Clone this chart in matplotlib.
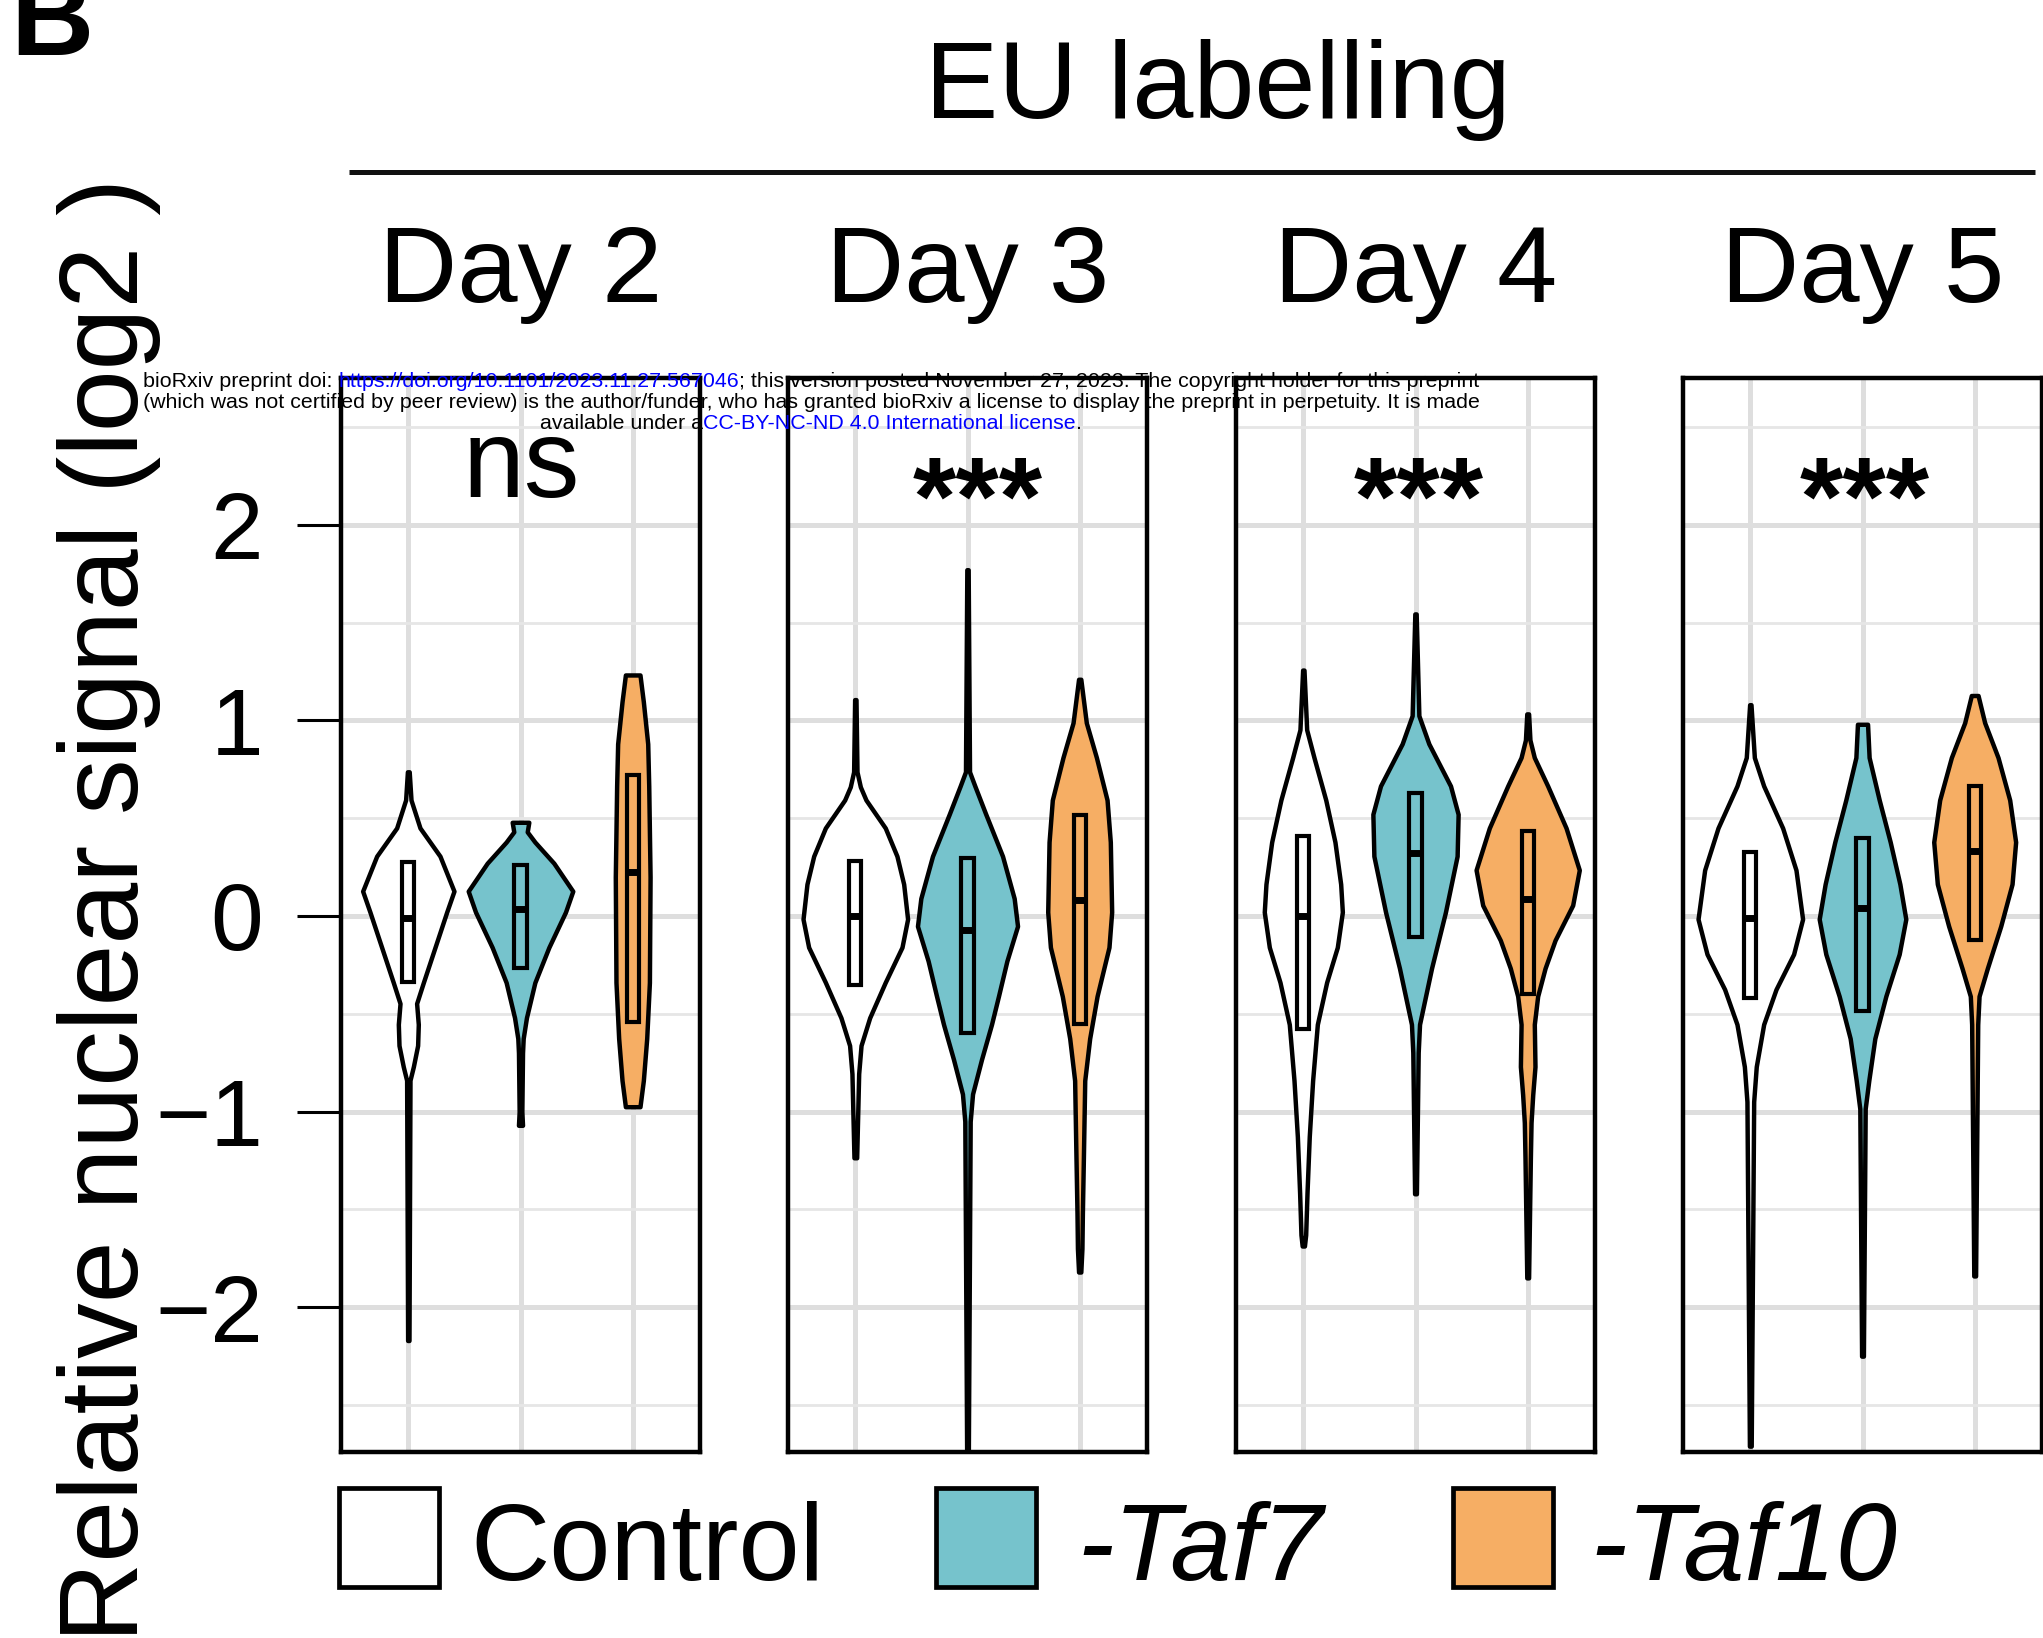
import numpy as np
import matplotlib
matplotlib.use("Agg")
import matplotlib.pyplot as plt
from matplotlib.patches import Rectangle

plt.rcParams['font.family'] = ['Liberation Sans', 'DejaVu Sans']

days = ["Day 2", "Day 3", "Day 4", "Day 5"]
groups = ["Control", "-Taf7", "-Taf10"]
colors = ["#FFFFFF", "#76C3CC", "#F6AE64"]
signif = ["ns", "***", "***", "***"]
signif_x = [2.01, 2.09, 2.03, 2.02]
signif_y = [2.14, 1.95, 1.95, 1.95]

# violin outlines: y = log2 signal, hw = half width (x units)
d2_control_y = [0.737, 0.593, 0.45, 0.306, 0.127, 0.02, -0.16, -0.34, -0.447, -0.554, -0.662, -0.77, -0.84, -2.17]
d2_control_hw = [0.008, 0.024, 0.104, 0.282, 0.407, 0.342, 0.238, 0.134, 0.074, 0.089, 0.083, 0.045, 0.015, 0.006]
d2_taf7_y = [0.479, 0.43, 0.378, 0.27, 0.127, 0.02, -0.16, -0.34, -0.52, -0.626, -0.70, -1.0, -1.07]
d2_taf7_hw = [0.074, 0.06, 0.128, 0.297, 0.466, 0.401, 0.253, 0.128, 0.053, 0.024, 0.018, 0.012, 0.018]
d2_taf10_y = [1.232, 1.095, 0.88, 0.665, 0.199, -0.34, -0.626, -0.841, -0.975]
d2_taf10_hw = [0.065, 0.095, 0.134, 0.143, 0.155, 0.149, 0.125, 0.095, 0.065]

d3_control_y = [1.106, 0.737, 0.66, 0.593, 0.45, 0.306, 0.163, -0.016, -0.16, -0.339, -0.52, -0.662, -0.806, -1.236]
d3_control_hw = [0.006, 0.015, 0.045, 0.095, 0.267, 0.371, 0.431, 0.466, 0.416, 0.267, 0.128, 0.051, 0.03, 0.012]
d3_taf7_y = [1.77, 0.737, 0.665, 0.52, 0.306, 0.09, -0.052, -0.23, -0.41, -0.554, -0.733, -0.91, -1.05, -2.9]
d3_taf7_hw = [0.006, 0.018, 0.065, 0.163, 0.312, 0.416, 0.446, 0.351, 0.276, 0.214, 0.125, 0.045, 0.024, 0.006]
d3_taf10_y = [1.21, 0.988, 0.81, 0.593, 0.378, 0.02, -0.16, -0.41, -0.626, -0.841, -1.236, -1.52, -1.70, -1.82]
d3_taf10_hw = [0.01, 0.059, 0.149, 0.244, 0.273, 0.285, 0.261, 0.155, 0.089, 0.045, 0.033, 0.024, 0.02, 0.01]

d4_control_y = [1.257, 0.952, 0.81, 0.593, 0.378, 0.163, 0.02, -0.16, -0.339, -0.554, -0.841, -1.128, -1.415, -1.63, -1.687]
d4_control_hw = [0.006, 0.03, 0.095, 0.2, 0.282, 0.333, 0.348, 0.303, 0.208, 0.125, 0.083, 0.053, 0.033, 0.021, 0.01]
d4_taf7_y = [1.544, 1.024, 0.88, 0.665, 0.52, 0.306, 0.02, -0.267, -0.554, -0.698, -1.42]
d4_taf7_hw = [0.006, 0.03, 0.119, 0.312, 0.38, 0.371, 0.267, 0.143, 0.036, 0.024, 0.008]
d4_taf10_y = [1.033, 0.9, 0.81, 0.665, 0.45, 0.235, 0.055, -0.124, -0.267, -0.41, -0.554, -0.77, -0.913, -1.056, -1.236, -1.85]
d4_taf10_hw = [0.008, 0.02, 0.059, 0.178, 0.342, 0.46, 0.401, 0.244, 0.155, 0.089, 0.059, 0.065, 0.045, 0.03, 0.024, 0.008]

d5_control_y = [1.08, 0.81, 0.665, 0.45, 0.235, -0.016, -0.195, -0.375, -0.554, -0.77, -0.949, -2.71]
d5_control_hw = [0.006, 0.036, 0.119, 0.288, 0.407, 0.466, 0.386, 0.229, 0.119, 0.053, 0.03, 0.008]
d5_taf7_y = [0.98, 0.81, 0.593, 0.378, 0.163, -0.016, -0.195, -0.41, -0.626, -0.841, -0.985, -2.25]
d5_taf7_hw = [0.045, 0.059, 0.149, 0.247, 0.333, 0.386, 0.327, 0.208, 0.11, 0.056, 0.024, 0.008]
d5_taf10_y = [1.127, 0.988, 0.81, 0.593, 0.378, 0.163, -0.052, -0.267, -0.41, -0.554, -1.84]
d5_taf10_hw = [0.03, 0.089, 0.208, 0.312, 0.365, 0.333, 0.232, 0.113, 0.039, 0.027, 0.008]

# box stats per day (Day 2..5)
control_q1 = [-0.34, -0.355, -0.576, -0.42]
control_med = [-0.01, 0.0, 0.0, -0.01]
control_q3 = [0.275, 0.28, 0.41, 0.325]
taf7_q1 = [-0.267, -0.6, -0.106, -0.485]
taf7_med = [0.035, -0.072, 0.32, 0.04]
taf7_q3 = [0.26, 0.295, 0.631, 0.398]
taf10_q1 = [-0.54, -0.554, -0.397, -0.122]
taf10_med = [0.225, 0.082, 0.085, 0.334]
taf10_q3 = [0.72, 0.518, 0.432, 0.662]

violins = [
    [(d2_control_y, d2_control_hw), (d2_taf7_y, d2_taf7_hw), (d2_taf10_y, d2_taf10_hw)],
    [(d3_control_y, d3_control_hw), (d3_taf7_y, d3_taf7_hw), (d3_taf10_y, d3_taf10_hw)],
    [(d4_control_y, d4_control_hw), (d4_taf7_y, d4_taf7_hw), (d4_taf10_y, d4_taf10_hw)],
    [(d5_control_y, d5_control_hw), (d5_taf7_y, d5_taf7_hw), (d5_taf10_y, d5_taf10_hw)],
]
q1s = [control_q1, taf7_q1, taf10_q1]
meds = [control_med, taf7_med, taf10_med]
q3s = [control_q3, taf7_q3, taf10_q3]

W, H = 2043, 1638
fig = plt.figure(figsize=(W / 100, H / 100), dpi=100)

panel_left = [341, 788, 1236, 1683]
panel_w = 359
panel_top, panel_bot = 378, 1452

for d in range(4):
    ax = fig.add_axes([panel_left[d] / W, 1 - panel_bot / H, panel_w / W, (panel_bot - panel_top) / H])
    ax.set_xlim(0.4, 3.6)
    ax.set_ylim(-2.74, 2.75)
    ax.set_xticks([1, 2, 3])
    ax.set_yticks([-2, -1, 0, 1, 2])
    ax.set_yticks(np.arange(-2.5, 2.6, 1.0), minor=True)
    ax.set_axisbelow(True)
    ax.grid(which='major', color='#DEDEDE', linewidth=3.6)
    ax.grid(which='minor', axis='y', color='#E6E6E6', linewidth=2)
    ax.tick_params(which='minor', length=0)
    ax.tick_params(axis='x', length=0, labelbottom=False)
    for s in ax.spines.values():
        s.set_linewidth(3.2)
    if d == 0:
        ax.tick_params(axis='y', length=32, width=2.2, pad=24, labelsize=68)
    else:
        ax.tick_params(axis='y', left=False, labelleft=False)

    for g in range(3):
        y, hw = violins[d][g]
        y = np.array(y)
        hw = np.array(hw)
        pos = g + 1
        ax.fill_betweenx(y, pos - hw, pos + hw, facecolor=colors[g], edgecolor='black',
                         linewidth=3.2, joinstyle='round', capstyle='round', zorder=3)
        stats = [{'med': meds[g][d], 'q1': q1s[g][d], 'q3': q3s[g][d],
                  'whislo': q1s[g][d], 'whishi': q3s[g][d], 'fliers': []}]
        ax.bxp(stats, positions=[pos], widths=0.11, showfliers=False, showcaps=False,
               patch_artist=True, manage_ticks=False,
               boxprops=dict(facecolor=colors[g], edgecolor='black', linewidth=3),
               medianprops=dict(color='black', linewidth=5, solid_capstyle='butt'),
               whiskerprops=dict(linewidth=0), zorder=4)
    ax.text(signif_x[d], signif_y[d], signif[d], ha='center', va='baseline', fontsize=80,
            fontweight='normal' if d == 0 else 'bold', zorder=6)
    fig.text((panel_left[d] + panel_w / 2) / W, 1 - 302 / H, days[d], ha='center', va='baseline', fontsize=78)

over = fig.add_axes([0, 0, 1, 1], zorder=20)
over.set_xlim(0, 1)
over.set_ylim(0, 1)
over.axis('off')

# titles
over.text(1218 / W, 1 - 118 / H, "EU labelling", ha='center', va='baseline', fontsize=79)
over.plot([349 / W, 2035 / W], [1 - 172 / H, 1 - 172 / H], color='#111111', linewidth=3.6, solid_capstyle='butt')
over.text(10 / W, 1 - 55 / H, "B", ha='left', va='baseline', fontsize=83, fontweight='bold')
over.text(109 / W, -0.0024, "Relative nuclear signal (log2 )", rotation=90, ha='center', va='bottom', fontsize=80)

# legend
leg_box_x = [339, 936, 1453]
leg_text_x = [470, 1077, 1590]
for g in range(3):
    over.add_patch(Rectangle((leg_box_x[g] / W, 1 - 1587 / H), 100 / W, 99 / H,
                             facecolor=colors[g], edgecolor='black', linewidth=3.4))
    over.text(leg_text_x[g] / W, 1 - 1580 / H, groups[g], ha='left', va='baseline', fontsize=79,
              style='normal' if g == 0 else 'italic')

# bioRxiv stamp
wm_size = 15.4
blue = '#0000FF'
lines = [
    (143, 387, [("bioRxiv preprint doi: ", 'black'),
                ("https://doi.org/10.1101/2023.11.27.567046", blue),
                ("; this version posted November 27, 2023. The copyright holder for this preprint", 'black')]),
    (143, 408, [("(which was not certified by peer review) is the author/funder, who has granted bioRxiv a license to display the preprint in perpetuity. It is made", 'black')]),
    (540, 429, [("available under a", 'black'),
                ("CC-BY-NC-ND 4.0 International license", blue),
                (".", 'black')]),
]
for lx, ly, pieces in lines:
    prev = over.text(lx / W, 1 - ly / H, pieces[0][0], color=pieces[0][1], fontsize=wm_size,
                     ha='left', va='baseline')
    for txt, col in pieces[1:]:
        prev = over.annotate(txt, xy=(1, 0), xycoords=prev, ha='left', va='bottom',
                             color=col, fontsize=wm_size)

fig.savefig("out.png", dpi=100)
